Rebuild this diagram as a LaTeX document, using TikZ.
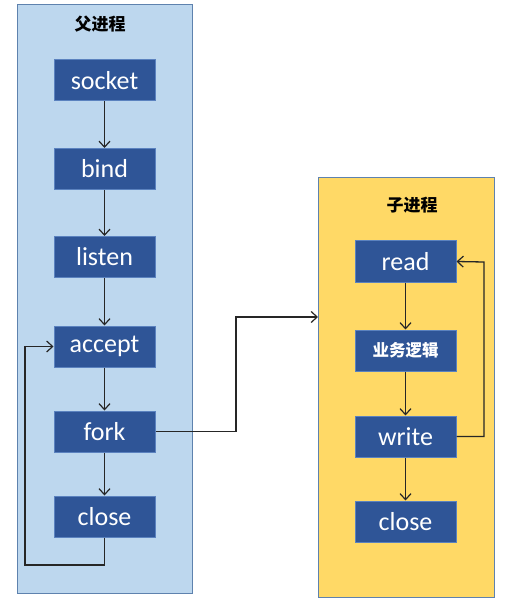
\documentclass[tikz,border=0pt]{standalone}
\usepackage{fontspec}
\setmainfont{Carlito}
\newfontfamily\cjk{Noto Sans CJK SC}
\usetikzlibrary{arrows.meta}
\definecolor{boxblue}{HTML}{2F5597}
\definecolor{boxedge}{HTML}{5B82BF}
\definecolor{panelblue}{HTML}{BDD7EE}
\definecolor{panelyellow}{HTML}{FFD966}
\definecolor{paneledge}{HTML}{5E82AE}
\begin{document}
\begin{tikzpicture}[x=1pt,y=-1pt,
  stepbox/.style={draw=boxedge,line width=1pt,fill=boxblue,text=white,minimum width=101pt,minimum height=41pt,inner sep=0pt,font=\fontsize{26}{28}\selectfont},
  cjkbox/.style={stepbox,font=\cjk\bfseries\fontsize{16.5}{18}\selectfont},
  panel/.style={draw=paneledge,line width=1pt},
  title/.style={font=\cjk\bfseries\fontsize{17}{19}\selectfont,text=black},
  conn/.style={draw=black!85,line width=1.3pt,-{Straight Barb[length=6pt,width=11pt,line width=1.2pt]}},
  plain/.style={draw=black!85,line width=1.3pt}]
\useasboundingbox (0,0) rectangle (506,601);
\fill[white] (0,0) rectangle (506,601);
% panels
\node[panel,fill=panelblue,minimum width=175pt,minimum height=589pt,anchor=north west,inner sep=0pt] (lp) at (17,4) {};
\node[panel,fill=panelyellow,minimum width=176pt,minimum height=420pt,anchor=north west,inner sep=0pt] (rp) at (318,177) {};
\node[title] (lt) at (100,24) {父进程};
\node[title] (rt) at (412,205) {子进程};
% left boxes
\node[stepbox] (socket) at (104.5,80.5) {socket};
\node[stepbox] (bind) at (104.5,169) {bind};
\node[stepbox] (listen) at (104.5,257) {listen};
\node[stepbox] (accept) at (104.5,346.5) {accept};
\node[stepbox] (fork) at (104.5,431.5) {fork};
\node[stepbox] (close1) at (104.5,516.5) {close};
% right boxes
\node[stepbox] (read) at (405.5,261.5) {read};
\node[cjkbox] (logic) at (405.5,350.5) {业务逻辑};
\node[stepbox] (write) at (405.5,436.5) {write};
\node[stepbox] (close2) at (405.5,521.5) {close};
% coordinates
\coordinate (lb) at (25,565);
\coordinate (fk) at (236,317);
\coordinate (rl) at (484,262);
% connectors
\draw[conn] (socket) -- (bind);
\draw[conn] (bind) -- (listen);
\draw[conn] (listen) -- (accept);
\draw[conn] (accept) -- (fork);
\draw[conn] (fork) -- (close1);
\draw[conn] (close1.south) |- (lb) |- (accept.west);
\draw[conn] (fork.east) -| (fk) -- (fk -| rp.west);
\draw[conn] (read) -- (logic);
\draw[conn] (logic) -- (write);
\draw[conn] (write) -- (close2);
\draw[conn] (write.east) -| (rl) -- (read.east);
\end{tikzpicture}
\end{document}
